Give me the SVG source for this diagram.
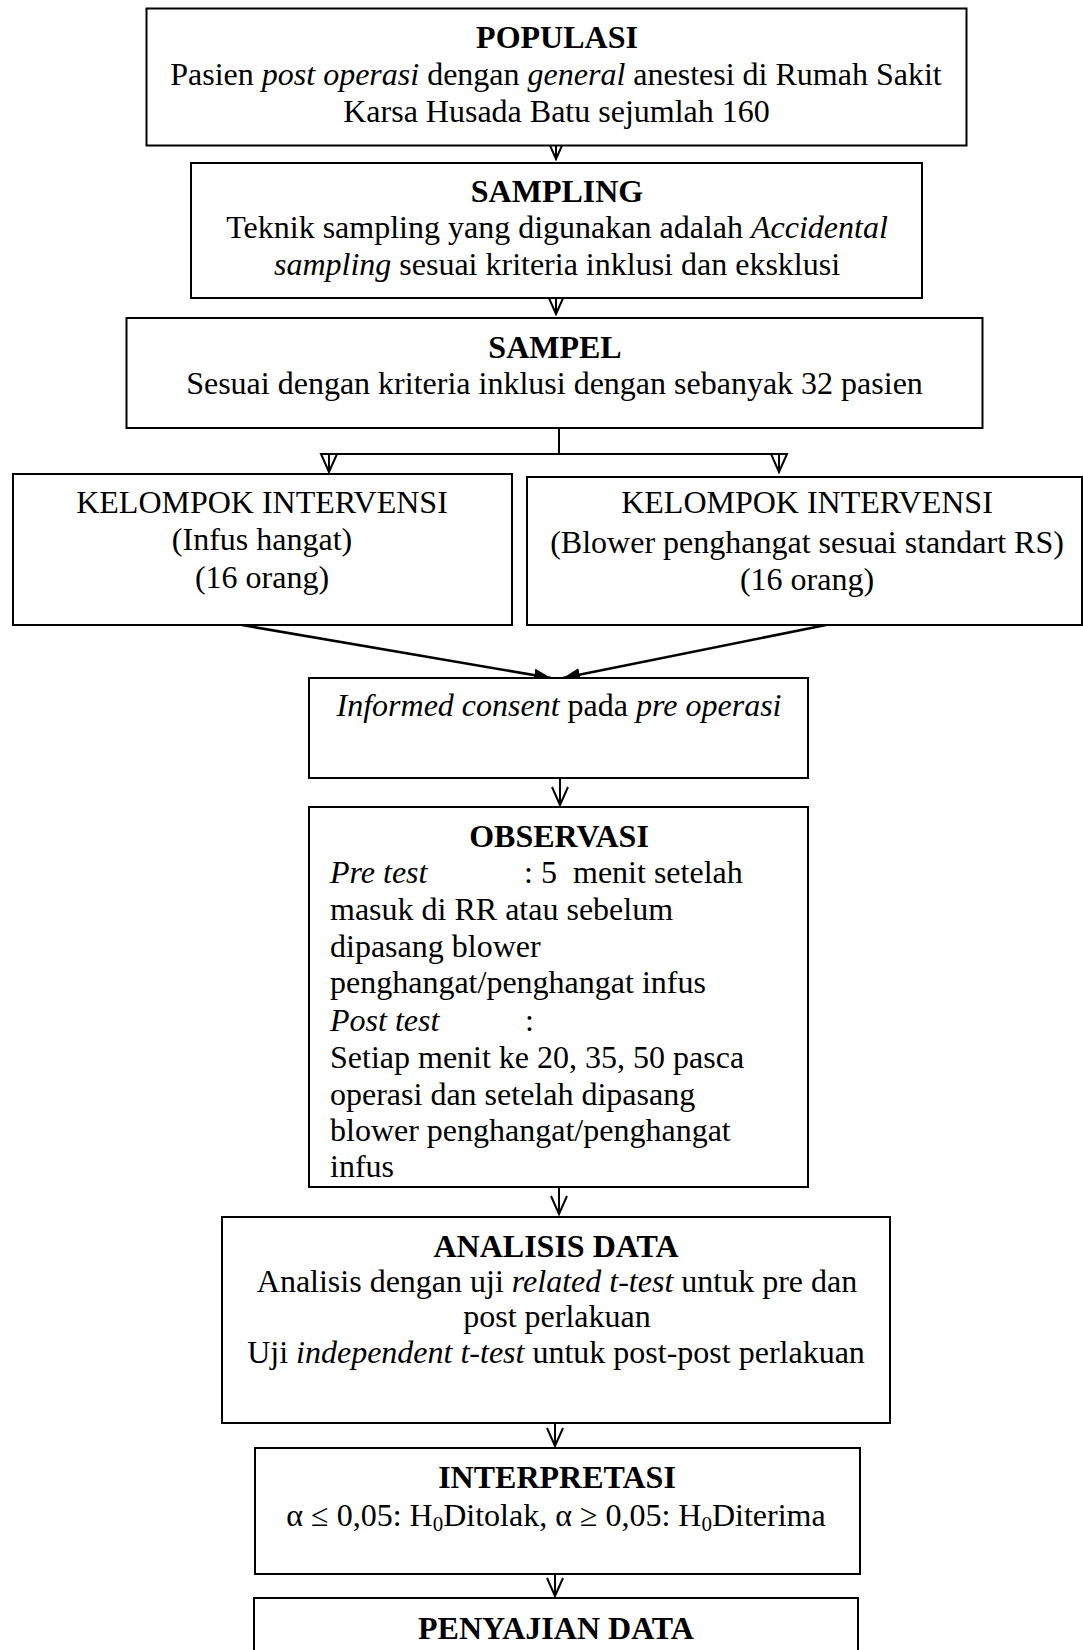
<svg xmlns="http://www.w3.org/2000/svg" width="1083" height="1650" viewBox="0 0 1083 1650">
<style>
  .box { fill: #fff; stroke: #000; stroke-width: 2; }
  text { font-family: "Liberation Serif", "Times New Roman", serif; font-size: 32px; fill: #000; }
  .c { text-anchor: middle; }
  .b { font-weight: bold; }
  .i { font-style: italic; }
  .ln { stroke: #000; stroke-width: 2; fill: none; }
  .thick { stroke-width: 2.6; }
  .sub { font-size: 21px; }
</style>
<defs>
  <marker id="tri" markerUnits="userSpaceOnUse" markerWidth="22" markerHeight="20" refX="19" refY="10" orient="auto">
    <path d="M1,2 L19,10 L1,18 Z" fill="none" stroke="#000" stroke-width="2" stroke-linejoin="miter"/>
  </marker>
  <marker id="vee" markerUnits="userSpaceOnUse" markerWidth="22" markerHeight="20" refX="19" refY="10" orient="auto">
    <path d="M1,2 L19,10 L1,18" fill="none" stroke="#000" stroke-width="2"/>
  </marker>
  <marker id="fill" markerUnits="userSpaceOnUse" markerWidth="20" markerHeight="16" refX="17" refY="8" orient="auto">
    <path d="M0,1.5 L17,8 L0,14.5 Z" fill="#000"/>
  </marker>
</defs>

<g id="connectors">
  <line class="ln" x1="556" y1="141" x2="556" y2="159" marker-end="url(#tri)"/>
  <line class="ln" x1="556" y1="295" x2="556" y2="314" marker-end="url(#tri)"/>
  <polyline class="ln" points="559,428 559,454"/>
  <polyline class="ln" points="329,454 779,454"/>
  <line class="ln" x1="329" y1="454" x2="329" y2="472" marker-end="url(#tri)"/>
  <line class="ln" x1="779" y1="454" x2="779" y2="472" marker-end="url(#tri)"/>
  <line class="ln thick" x1="242" y1="625" x2="551" y2="678" marker-end="url(#fill)"/>
  <line class="ln thick" x1="826" y1="625" x2="563" y2="678" marker-end="url(#fill)"/>
  <line class="ln" x1="560" y1="779" x2="560" y2="805" marker-end="url(#vee)"/>
  <line class="ln" x1="559" y1="1188" x2="559" y2="1214" marker-end="url(#vee)"/>
  <line class="ln" x1="555" y1="1424" x2="555" y2="1446" marker-end="url(#vee)"/>
  <line class="ln" x1="555" y1="1574" x2="555" y2="1596" marker-end="url(#vee)"/>
</g>

<g id="populasi">
  <rect class="box" x="146.5" y="8.5" width="820" height="137"/>
  <text class="c b" x="557" y="48">POPULASI</text>
  <text class="c" x="556" y="85">Pasien <tspan class="i">post operasi</tspan> dengan <tspan class="i">general</tspan> anestesi di Rumah Sakit</text>
  <text class="c" x="556.5" y="122">Karsa Husada Batu sejumlah 160</text>
</g>

<g id="sampling">
  <rect class="box" x="191" y="163" width="731" height="135"/>
  <text class="c b" x="557" y="202">SAMPLING</text>
  <text class="c" x="557" y="238">Teknik sampling yang digunakan adalah <tspan class="i">Accidental</tspan></text>
  <text class="c" x="557" y="275"><tspan class="i">sampling</tspan> sesuai kriteria inklusi dan eksklusi</text>
</g>

<g id="sampel">
  <rect class="box" x="126.5" y="318" width="856" height="110"/>
  <text class="c b" x="555" y="358">SAMPEL</text>
  <text class="c" x="554.5" y="394">Sesuai dengan kriteria inklusi dengan sebanyak 32 pasien</text>
</g>

<g id="kelompok-infus">
  <rect class="box" x="13" y="474" width="499" height="151"/>
  <text class="c" x="262" y="513">KELOMPOK INTERVENSI</text>
  <text class="c" x="262" y="550">(Infus hangat)</text>
  <text class="c" x="262" y="588">(16 orang)</text>
</g>

<g id="kelompok-blower">
  <rect class="box" x="527" y="477" width="555" height="148"/>
  <text class="c" x="807" y="513">KELOMPOK INTERVENSI</text>
  <text class="c" x="807" y="553">(Blower penghangat sesuai standart RS)</text>
  <text class="c" x="807" y="590">(16 orang)</text>
</g>

<g id="informed-consent">
  <rect class="box" x="309" y="678" width="499" height="100"/>
  <text class="c" x="559" y="716"><tspan class="i">Informed consent</tspan> pada <tspan class="i">pre operasi</tspan></text>
</g>

<g id="observasi">
  <rect class="box" x="309" y="807" width="499" height="380"/>
  <text class="c b" x="559" y="847">OBSERVASI</text>
  <text class="i" x="330" y="883">Pre test</text>
  <text x="524" y="883">: 5</text>
  <text x="573" y="883">menit setelah</text>
  <text x="330" y="920">masuk di RR atau sebelum</text>
  <text x="330" y="957">dipasang blower</text>
  <text x="330" y="993">penghangat/penghangat infus</text>
  <text class="i" x="330" y="1031">Post test</text>
  <text x="525" y="1031">:</text>
  <text x="330" y="1068">Setiap menit ke 20, 35, 50 pasca</text>
  <text x="330" y="1105">operasi dan setelah dipasang</text>
  <text x="330" y="1141">blower penghangat/penghangat</text>
  <text x="330" y="1177">infus</text>
</g>

<g id="analisis-data">
  <rect class="box" x="222" y="1217" width="668" height="206"/>
  <text class="c b" x="556" y="1257">ANALISIS DATA</text>
  <text class="c" x="557" y="1292">Analisis dengan uji <tspan class="i">related t-test</tspan> untuk pre dan</text>
  <text class="c" x="557" y="1327">post perlakuan</text>
  <text class="c" x="556" y="1363">Uji <tspan class="i">independent t-test</tspan> untuk post-post perlakuan</text>
</g>

<g id="interpretasi">
  <rect class="box" x="255" y="1448" width="605" height="126"/>
  <text class="c b" x="557" y="1488">INTERPRETASI</text>
  <text class="c" x="556" y="1526">α ≤ 0,05: H<tspan class="sub" dy="5">0</tspan><tspan dy="-5">Ditolak, α ≥ 0,05: H</tspan><tspan class="sub" dy="5">0</tspan><tspan dy="-5">Diterima</tspan></text>
</g>

<g id="penyajian-data">
  <rect class="box" x="254" y="1598" width="604" height="80"/>
  <text class="c b" x="556" y="1639">PENYAJIAN DATA</text>
</g>
</svg>
